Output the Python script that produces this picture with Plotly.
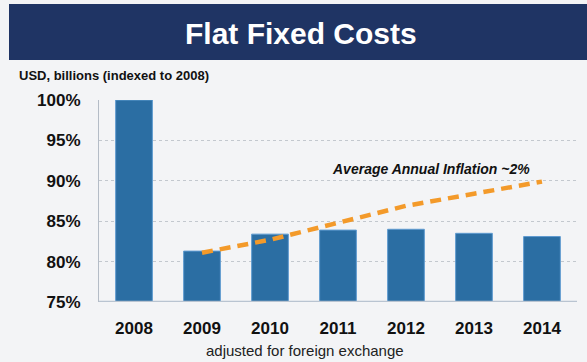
import plotly.graph_objects as go

years = ["2008", "2009", "2010", "2011", "2012", "2013", "2014"]
fixed_costs = [100.0, 81.3, 83.4, 83.9, 84.0, 83.5, 83.1]
inflation_years = ["2009", "2010", "2011", "2012", "2013", "2014"]
inflation_path = [81.1, 82.7, 84.8, 86.9, 88.4, 89.9]
y_ticks = [75, 80, 85, 90, 95, 100]
y_tick_labels = ["75%", "80%", "85%", "90%", "95%", "100%"]

BG = "#f3f4f6"
NAVY = "#1f3464"
BAR = "#2b6ea3"
ORANGE = "#f39a2a"
FONT = "Liberation Sans, Arial, sans-serif"

fig = go.Figure()

fig.add_trace(go.Bar(
    x=years, y=[v - 75 for v in fixed_costs], base=75,
    width=0.54,
    marker=dict(color=BAR, line=dict(color="#5f9bd0", width=1)),
    hoverinfo="skip",
))

fig.add_trace(go.Scatter(
    x=inflation_years, y=inflation_path, mode="lines",
    line=dict(color=ORANGE, width=4.5, dash="11px,7px"),
    hoverinfo="skip",
))

fig.update_layout(
    width=587, height=362,
    margin=dict(l=99, r=10, t=100, b=60),
    paper_bgcolor=BG, plot_bgcolor=BG,
    showlegend=False,
    font=dict(family=FONT, color="#111111"),
    bargap=0.46,
    xaxis=dict(
        type="category", range=[-0.515, 6.515],
        showgrid=False, showline=False, zeroline=False,
        ticks="", ticklabelstandoff=14,
        tickfont=dict(size=17, family=FONT, weight="bold", color="#111111"),
        fixedrange=True,
    ),
    yaxis=dict(
        range=[75, 100],
        tickvals=y_ticks, ticktext=y_tick_labels,
        showgrid=True, gridcolor="#c3c8ce", griddash="dot", gridwidth=1,
        showline=True, linecolor="#b4bcc6", linewidth=1,
        zeroline=False, ticks="", ticklabelstandoff=14,
        tickfont=dict(size=17, family=FONT, weight="bold", color="#111111"),
        fixedrange=True,
    ),
    shapes=[
        # header banner
        dict(type="rect", xref="paper", yref="paper",
             x0=(9 - 99) / 478, x1=(587 - 99) / 478,
             y0=(362 - 60 - 60) / 202, y1=(362 - 4 - 60) / 202,
             fillcolor=NAVY, line=dict(width=0), layer="below"),
        # baseline of the bars
        dict(type="line", xref="paper", yref="y",
             x0=0, x1=1, y0=75, y1=75,
             line=dict(color="#b9c4d1", width=2.5)),
    ],
    annotations=[
        dict(text="Flat Fixed Costs", xref="paper", yref="paper",
             x=(301 - 99) / 478, y=(362 - 34 - 60) / 202,
             xanchor="center", yanchor="middle", showarrow=False,
             font=dict(size=30, color="white", family=FONT, weight="bold")),
        dict(text="USD, billions (indexed to 2008)", xref="paper", yref="paper",
             x=(17 - 99) / 478, y=(362 - 76 - 60) / 202,
             xanchor="left", yanchor="middle", showarrow=False,
             font=dict(size=13, color="#111111", family=FONT, weight="bold")),
        dict(text="<i>Average Annual Inflation ~2%</i>", xref="paper", yref="paper",
             x=(431 - 99) / 478, y=(362 - 169 - 60) / 202,
             xanchor="center", yanchor="middle", showarrow=False,
             font=dict(size=14, color="#111111", family=FONT, weight="bold")),
        dict(text="adjusted for foreign exchange", xref="paper", yref="paper",
             x=(305 - 99) / 478, y=(362 - 350 - 60) / 202,
             xanchor="center", yanchor="middle", showarrow=False,
             font=dict(size=15, color="#222222", family=FONT)),
    ],
)

fig.write_html("out.html")
